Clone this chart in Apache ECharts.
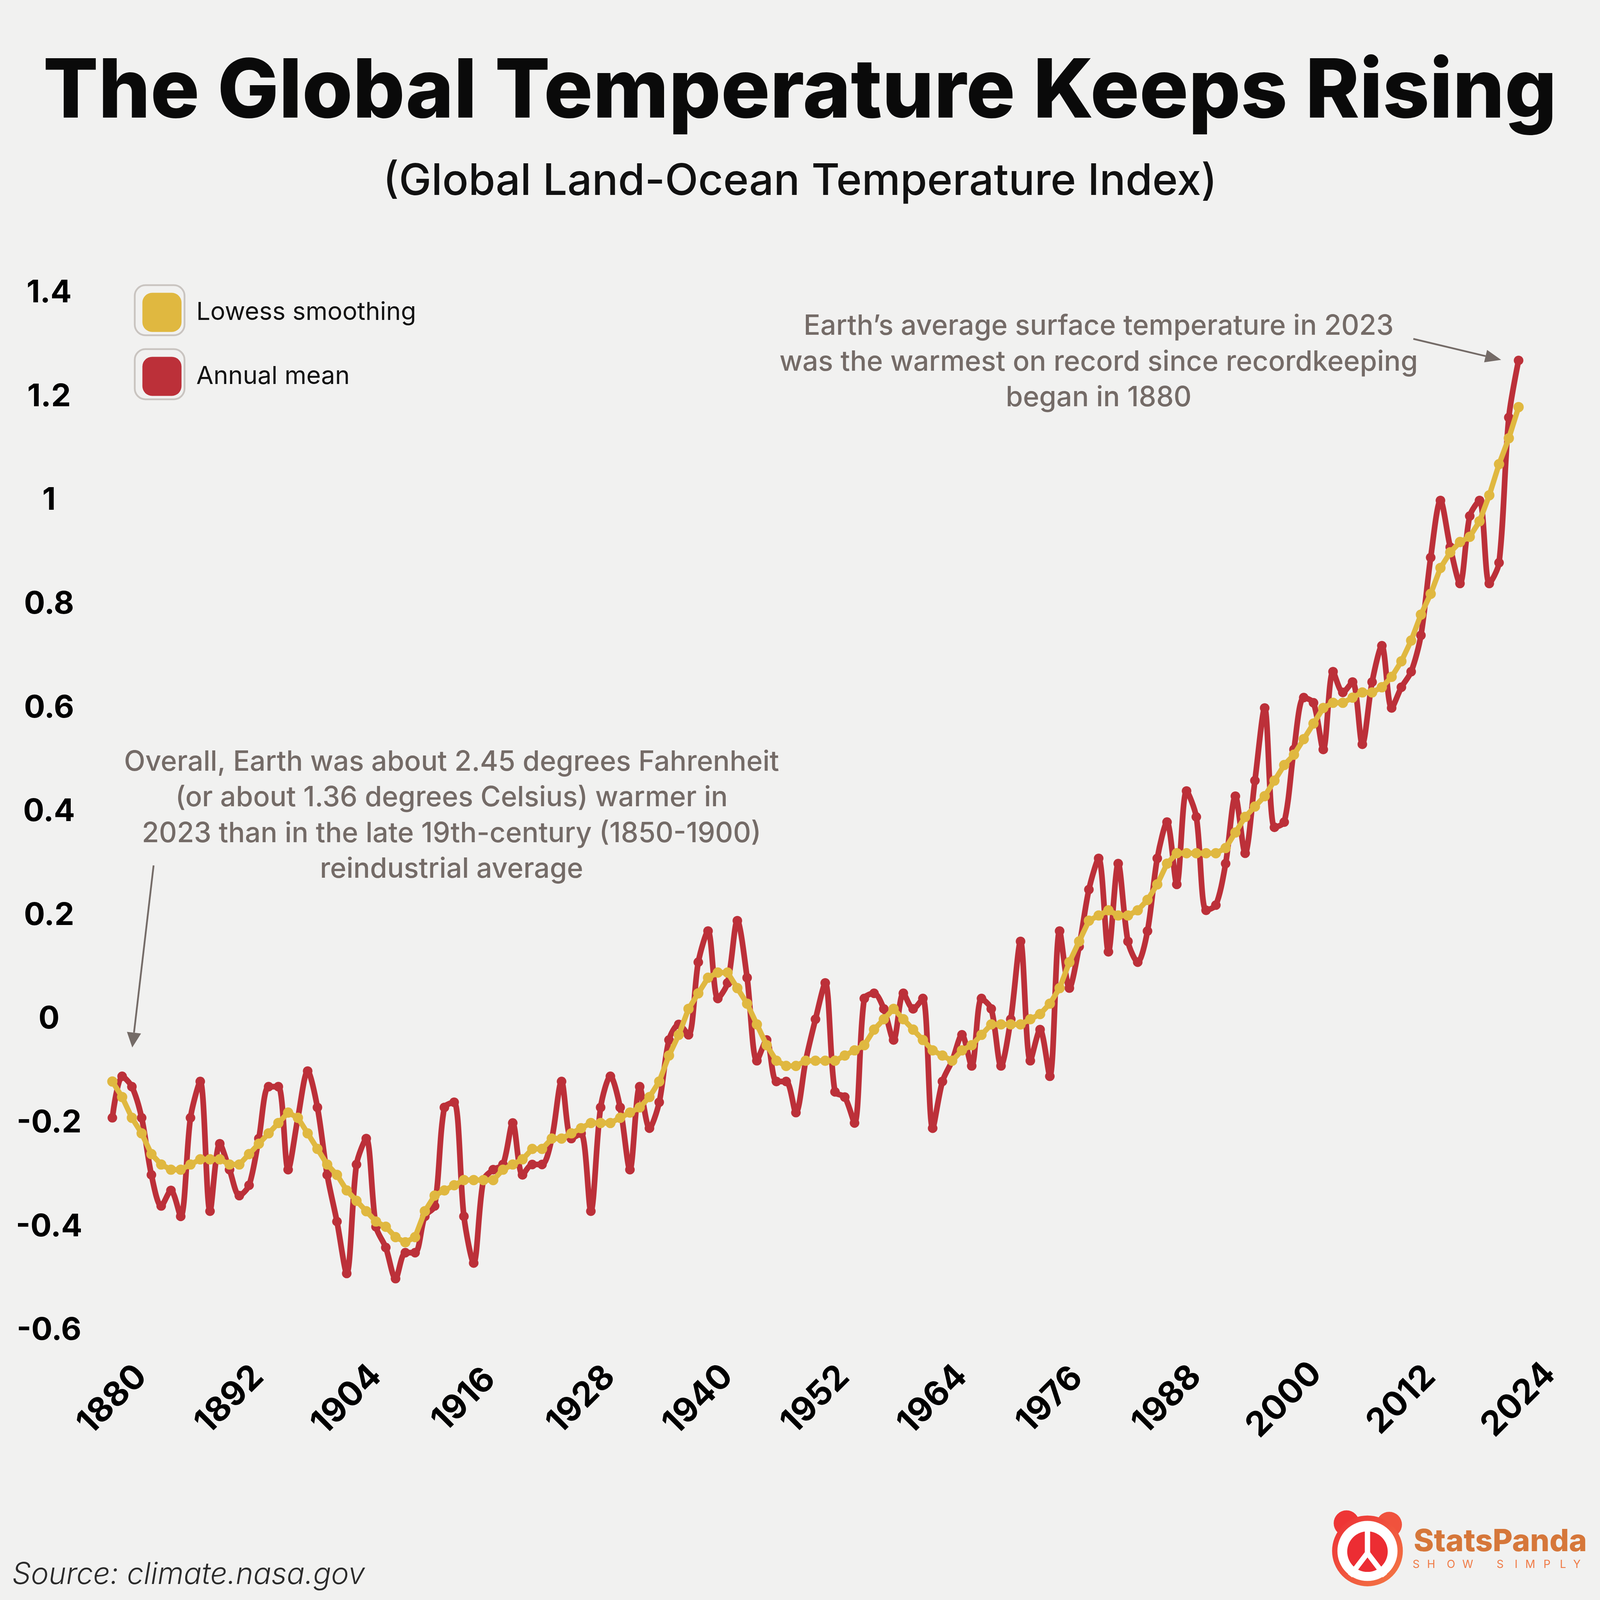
<!DOCTYPE html>
<html>
<head>
<meta charset="utf-8">
<title>The Global Temperature Keeps Rising</title>
<script src="https://cdn.jsdelivr.net/npm/echarts@6/dist/echarts.min.js"></script>
<style>
  html, body { margin: 0; padding: 0; background: #f1f1f0; overflow: hidden; }
  #chart { width: 100vw; height: 100vh; }
</style>
</head>
<body>
<div id="chart"></div>
<script>
// Global Land-Ocean Temperature Index
const years = [];
for (let y = 1880; y <= 2024; y++) {
  years.push(String(y));
}

const annualMean = [
  -0.19, -0.11, -0.13, -0.19, -0.30, -0.36, -0.33, -0.38, -0.19, -0.12, // 1880
  -0.37, -0.24, -0.29, -0.34, -0.32, -0.23, -0.13, -0.13, -0.29, -0.19, // 1890
  -0.10, -0.17, -0.30, -0.39, -0.49, -0.28, -0.23, -0.40, -0.44, -0.50, // 1900
  -0.45, -0.45, -0.38, -0.36, -0.17, -0.16, -0.38, -0.47, -0.31, -0.29, // 1910
  -0.28, -0.20, -0.30, -0.28, -0.28, -0.23, -0.12, -0.23, -0.22, -0.37, // 1920
  -0.17, -0.11, -0.17, -0.29, -0.13, -0.21, -0.16, -0.04, -0.01, -0.03, // 1930
  0.11, 0.17, 0.04, 0.07, 0.19, 0.08, -0.08, -0.04, -0.12, -0.12,       // 1940
  -0.18, -0.08, 0.00, 0.07, -0.14, -0.15, -0.20, 0.04, 0.05, 0.02,      // 1950
  -0.04, 0.05, 0.02, 0.04, -0.21, -0.12, -0.08, -0.03, -0.09, 0.04,     // 1960
  0.02, -0.09, 0.00, 0.15, -0.08, -0.02, -0.11, 0.17, 0.06, 0.14,       // 1970
  0.25, 0.31, 0.13, 0.30, 0.15, 0.11, 0.17, 0.31, 0.38, 0.26,           // 1980
  0.44, 0.39, 0.21, 0.22, 0.30, 0.43, 0.32, 0.46, 0.60, 0.37,           // 1990
  0.38, 0.52, 0.62, 0.61, 0.52, 0.67, 0.63, 0.65, 0.53, 0.65,           // 2000
  0.72, 0.60, 0.64, 0.67, 0.74, 0.89, 1.00, 0.91, 0.84, 0.97,           // 2010
  1.00, 0.84, 0.88, 1.16, 1.27                                          // 2020
];

const lowess = [
  -0.12, -0.15, -0.19, -0.22, -0.26, -0.28, -0.29, -0.29, -0.28, -0.27, // 1880
  -0.27, -0.27, -0.28, -0.28, -0.26, -0.24, -0.22, -0.20, -0.18, -0.19, // 1890
  -0.22, -0.25, -0.28, -0.30, -0.33, -0.35, -0.37, -0.39, -0.40, -0.42, // 1900
  -0.43, -0.42, -0.37, -0.34, -0.33, -0.32, -0.31, -0.31, -0.31, -0.31, // 1910
  -0.29, -0.28, -0.27, -0.25, -0.25, -0.23, -0.23, -0.22, -0.21, -0.20, // 1920
  -0.20, -0.20, -0.19, -0.18, -0.17, -0.15, -0.12, -0.07, -0.03, 0.02,  // 1930
  0.05, 0.08, 0.09, 0.09, 0.06, 0.03, -0.01, -0.05, -0.08, -0.09,       // 1940
  -0.09, -0.08, -0.08, -0.08, -0.08, -0.07, -0.06, -0.05, -0.02, 0.00,  // 1950
  0.02, 0.00, -0.02, -0.04, -0.06, -0.07, -0.08, -0.06, -0.05, -0.03,   // 1960
  -0.01, -0.01, -0.01, -0.01, 0.00, 0.01, 0.03, 0.06, 0.11, 0.15,       // 1970
  0.19, 0.20, 0.21, 0.20, 0.20, 0.21, 0.23, 0.26, 0.30, 0.32,           // 1980
  0.32, 0.32, 0.32, 0.32, 0.33, 0.36, 0.39, 0.41, 0.43, 0.46,           // 1990
  0.49, 0.51, 0.54, 0.57, 0.60, 0.61, 0.61, 0.62, 0.63, 0.63,           // 2000
  0.64, 0.66, 0.69, 0.73, 0.78, 0.82, 0.87, 0.90, 0.92, 0.93,           // 2010
  0.96, 1.01, 1.07, 1.12, 1.18                                          // 2020
];

const yTicks = { min: -0.6, max: 1.4, step: 0.2 };

// layout is worked out on a 4500px square, then scaled to the real viewport
const S = Math.min(window.innerWidth, window.innerHeight) / 4500;
function p(v) {
  return v * S;
}

const FONT = "Inter, Lato, 'Noto Sans', sans-serif";
const RED = "#bc3039";
const YELLOW = "#e0b840";
const NOTE = "#746b67";
const LOGO_TEXT = "#d6773a";

function font(weight, size, style) {
  return (style ? style + " " : "") + weight + " " + p(size) + "px " + FONT;
}

function label(text, x, y, f, fill, align) {
  return {
    type: "text",
    style: {
      text: text,
      x: p(x),
      y: p(y),
      font: f,
      fill: fill,
      textAlign: align,
      textVerticalAlign: "middle",
      align: align,
      verticalAlign: "middle",
    },
  };
}

// Arrow helper: a line plus a small triangle head at the tip
function arrow(x1, y1, x2, y2, headLen, headHalf) {
  const dx = x2 - x1;
  const dy = y2 - y1;
  const len = Math.sqrt(dx * dx + dy * dy);
  const ux = dx / len;
  const uy = dy / len;
  const bx = x2 - ux * headLen;
  const by = y2 - uy * headLen;
  return [
    {
      type: "line",
      shape: { x1: p(x1), y1: p(y1), x2: p(bx), y2: p(by) },
      style: { stroke: NOTE, lineWidth: p(5) },
    },
    {
      type: "polygon",
      shape: {
        points: [
          [p(x2), p(y2)],
          [p(bx - uy * headHalf), p(by + ux * headHalf)],
          [p(bx + uy * headHalf), p(by - ux * headHalf)],
        ],
      },
      style: { fill: NOTE },
    },
  ];
}

function noteLines(lines, cx, ys) {
  return lines.map((t, i) => label(t, cx, ys[i], font(500, 78), NOTE, "center"));
}

// grey frames drawn round the legend swatches
function legendFrame(y) {
  return {
    type: "rect",
    shape: { x: p(379), y: p(y), width: p(140), height: p(141), r: p(30) },
    style: { fill: "none", stroke: "#c9c4c0", lineWidth: p(5) },
  };
}

function logo() {
  const ringColor = new echarts.graphic.LinearGradient(0, 0, 1, 1, [
    { offset: 0, color: "#ec2d35" },
    { offset: 1, color: "#f47b46" },
  ]);
  const white = { stroke: "#ffffff", lineWidth: p(15), lineCap: "butt" };
  const parts = [
    { type: "circle", shape: { cx: p(3787), cy: p(4284), r: p(36) }, style: { fill: "#ee3535" } },
    { type: "circle", shape: { cx: p(3907), cy: p(4288), r: p(36) }, style: { fill: "#f0523d" } },
    {
      type: "circle",
      shape: { cx: p(3846), cy: p(4362), r: p(92) },
      style: { fill: "#ffffff", stroke: ringColor, lineWidth: p(15) },
    },
    { type: "circle", shape: { cx: p(3846), cy: p(4364), r: p(57) }, style: { fill: "#ec2d33" } },
    { type: "line", shape: { x1: p(3846), y1: p(4300), x2: p(3846), y2: p(4372) }, style: white },
    { type: "line", shape: { x1: p(3846), y1: p(4368), x2: p(3797), y2: p(4432) }, style: white },
    { type: "line", shape: { x1: p(3846), y1: p(4368), x2: p(3895), y2: p(4432) }, style: white },
    label("StatsPanda", 3976, 4337, font(800, 86), LOGO_TEXT, "left"),
  ];
  const tag = ["S", "H", "O", "W", "S", "I", "M", "P", "L", "Y"];
  const tagX = [3983, 4025, 4081, 4128, 4219, 4264, 4304, 4351, 4396, 4435];
  tag.forEach((ch, i) => {
    parts.push(label(ch, tagX[i], 4401, font(400, 31), "#f07a45", "center"));
  });
  return parts;
}

const chart = echarts.init(document.getElementById("chart"));

const graphics = [
  label("The Global Temperature Keeps Rising", 2250, 262, font(800, 230), "#0a0a0a", "center"),
  label("(Global Land-Ocean Temperature Index)", 2250, 512, font(500, 122), "#111111", "center"),
  label("Source: climate.nasa.gov", 34, 4430, font(300, 84, "italic"), "#2b2b2b", "left"),
  legendFrame(802),
  legendFrame(982),
]
  .concat(logo())
  .concat(noteLines(
    [
      "Earth\u2019s average surface temperature in 2023",
      "was the warmest on record since recordkeeping",
      "began in 1880",
    ],
    3090, [918, 1019, 1119]))
  .concat(noteLines(
    [
      "Overall, Earth was about 2.45 degrees Fahrenheit",
      "(or about 1.36 degrees Celsius) warmer in",
      "2023 than in the late 19th-century (1850-1900)",
      "reindustrial average",
    ],
    1270, [2144, 2244, 2345, 2445]))
  .concat(arrow(3975, 953, 4222, 1012, 45, 18))
  .concat(arrow(432, 2434, 372, 2946, 42, 20));

const option = {
  backgroundColor: "#f1f1f0",
  animation: false,
  textStyle: { fontFamily: FONT },
  grid: { left: p(316), right: p(229), top: p(824), bottom: p(758), containLabel: false },
  legend: {
    data: ["Lowess smoothing", "Annual mean"],
    orient: "vertical",
    left: p(395),
    top: p(818),
    icon: "roundRect",
    itemWidth: p(110),
    itemHeight: p(110),
    itemGap: p(70),
    textStyle: {
      fontFamily: FONT,
      fontSize: p(70),
      color: "#111111",
      padding: [0, 0, 0, p(36)],
    },
  },
  xAxis: {
    type: "category",
    data: years,
    boundaryGap: false,
    axisLine: { show: false },
    axisTick: { show: false },
    splitLine: { show: false },
    axisLabel: {
      interval: 11,
      rotate: 45,
      align: "center",
      verticalAlign: "middle",
      margin: p(195),
      fontFamily: FONT,
      fontSize: p(96),
      fontWeight: "bold",
      color: "#000000",
    },
  },
  yAxis: {
    type: "value",
    min: yTicks.min,
    max: yTicks.max,
    interval: yTicks.step,
    axisLine: { show: false },
    axisTick: { show: false },
    splitLine: { show: false },
    axisLabel: {
      align: "center",
      margin: p(178),
      fontFamily: FONT,
      fontSize: p(88),
      fontWeight: "bold",
      color: "#000000",
    },
  },
  series: [
    {
      name: "Annual mean",
      type: "line",
      data: annualMean,
      smooth: 0.3,
      symbol: "circle",
      symbolSize: p(27),
      showAllSymbol: true,
      lineStyle: { color: RED, width: p(16) },
      itemStyle: { color: RED },
      z: 2,
    },
    {
      name: "Lowess smoothing",
      type: "line",
      data: lowess,
      smooth: false,
      symbol: "circle",
      symbolSize: p(29),
      showAllSymbol: true,
      lineStyle: { color: YELLOW, width: p(15) },
      itemStyle: { color: YELLOW },
      z: 3,
    },
  ],
  graphic: graphics,
};

chart.setOption(option);
</script>
</body>
</html>
